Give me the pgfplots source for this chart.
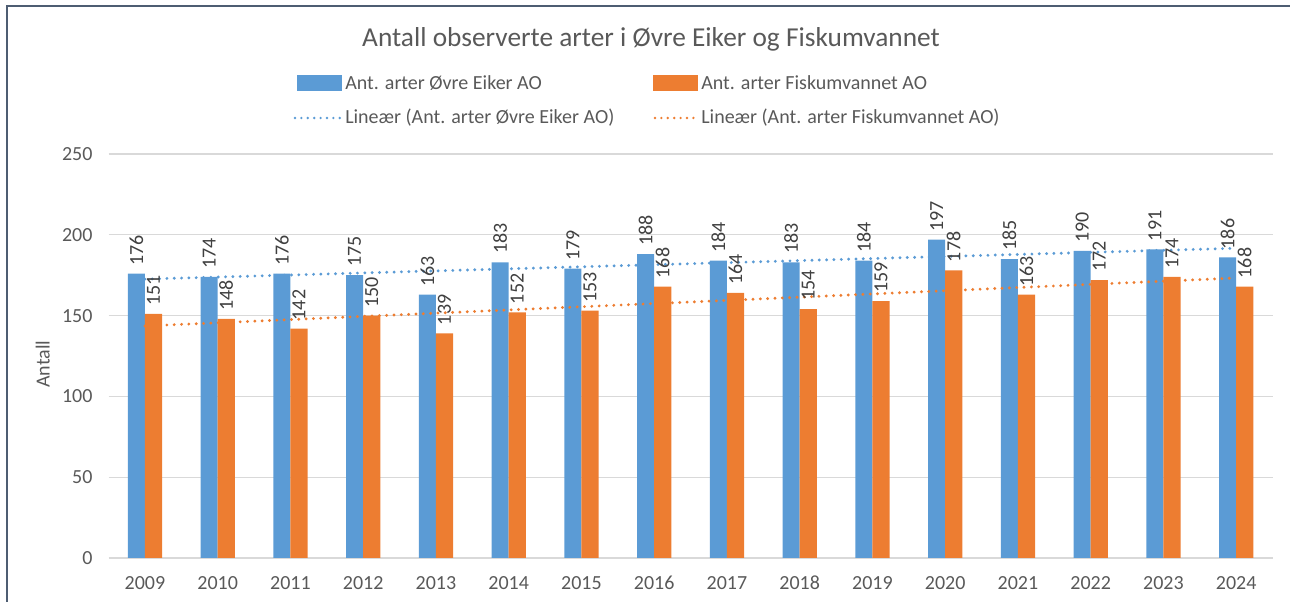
\documentclass[border=0pt]{standalone}
\usepackage{fontspec}
\setmainfont{Carlito}
\usepackage{pgfplots}
\pgfplotsset{compat=1.18}
\definecolor{cblue}{HTML}{5B9BD5}
\definecolor{corange}{HTML}{ED7D31}
\definecolor{txt}{HTML}{595959}
\definecolor{lbl}{HTML}{404040}
\definecolor{gridc}{HTML}{D9D9D9}
\definecolor{framec}{HTML}{4E5D72}
\newcommand{\lblfont}{\fontsize{15}{18}\selectfont}
\begin{document}
\begin{tikzpicture}
\useasboundingbox (0,0) rectangle (967.5pt,451.5pt);
\begin{axis}[
  at={(81.4pt,33pt)}, anchor=south west,
  scale only axis, width=873pt, height=303pt,
  xmin=-0.5, xmax=15.5, ymin=0, ymax=250,
  enlargelimits=false,
  xtick={0,1,...,15},
  xticklabels={2009,2010,2011,2012,2013,2014,2015,2016,2017,2018,2019,2020,2021,2022,2023,2024},
  ytick={0,50,100,150,200,250},
  ymajorgrids, grid style={gridc, line width=0.9pt},
  axis line style={draw=none},
  major tick length=0pt,
  tick label style={font=\lblfont, text=txt},
  /pgf/number format/assume math mode=true,
  xticklabel style={yshift=-10pt},
  yticklabel style={xshift=-8.5pt},
  ylabel={Antall},
  every axis y label/.style={at={(axis description cs:-0.0565,0.48)}, rotate=90, anchor=center, font=\lblfont, text=txt},
  title={Antall observerte arter i Øvre Eiker og Fiskumvannet},
  title style={at={(axis description cs:0.466,1.263)}, anchor=center, font=\fontsize{20.5}{25}\selectfont, text=txt},
  ybar, bar width=0.235,
]
\addplot[fill=cblue, draw=none, bar shift=-0.1175,
  nodes near coords,
  every node near coord/.append style={rotate=90, anchor=west, inner sep=6pt, font=\lblfont, text=lbl}]
  coordinates {(0,176) (1,174) (2,176) (3,175) (4,163) (5,183) (6,179) (7,188)
               (8,184) (9,183) (10,184) (11,197) (12,185) (13,190) (14,191) (15,186)};
\addplot[fill=corange, draw=none, bar shift=0.1175,
  nodes near coords,
  every node near coord/.append style={rotate=90, anchor=west, inner sep=6pt, font=\lblfont, text=lbl}]
  coordinates {(0,151) (1,148) (2,142) (3,150) (4,139) (5,152) (6,153) (7,168)
               (8,164) (9,154) (10,159) (11,178) (12,163) (13,172) (14,174) (15,168)};
\addplot[sharp plot, no markers, cblue, line width=2.4pt, line cap=round, dash pattern=on 0pt off 5.5pt]
  coordinates {(0,172.574) (15,191.676)};
\addplot[sharp plot, no markers, corange, line width=2.4pt, line cap=round, dash pattern=on 0pt off 5.5pt]
  coordinates {(0,143.581) (15,173.294)};
\end{axis}
\begin{scope}[x=0.75pt, y=-0.75pt, shift={(0pt,451.5pt)}]
  \fill[cblue] (297,75) rectangle (342,91);
  \node[anchor=west, inner sep=0pt, font=\lblfont, text=txt] at (345,83) {Ant. arter Øvre Eiker AO};
  \fill[corange] (653,75) rectangle (698,91);
  \node[anchor=west, inner sep=0pt, font=\lblfont, text=txt] at (701,83) {Ant. arter Fiskumvannet AO};
  \draw[cblue, line width=2pt, line cap=round, dash pattern=on 0pt off 4.8pt] (295,118) -- (340,118);
  \node[anchor=west, inner sep=0pt, font=\lblfont, text=txt] at (345,118) {Lineær (Ant. arter Øvre Eiker AO)};
  \draw[corange, line width=2pt, line cap=round, dash pattern=on 0pt off 4.8pt] (655,118) -- (698,118);
  \node[anchor=west, inner sep=0pt, font=\lblfont, text=txt] at (701,118) {Lineær (Ant. arter Fiskumvannet AO)};
  \draw[framec, line width=1.5pt] (6.5,602) -- (6.5,6.5) -- (1290,6.5);
\end{scope}
\end{tikzpicture}
\end{document}
